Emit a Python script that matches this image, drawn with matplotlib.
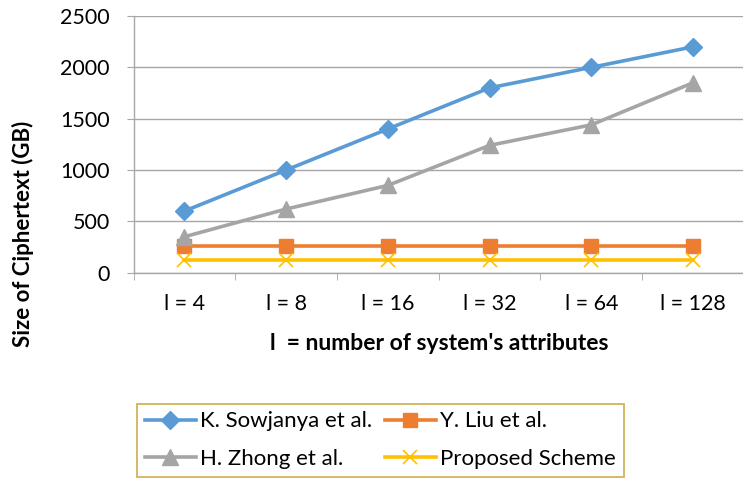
import numpy as np
import matplotlib
matplotlib.use("Agg")
import matplotlib.pyplot as plt

plt.rcParams['font.family'] = ['Lato', 'DejaVu Sans']

# ciphertext size per number of attributes
categories = ['l = 4', 'l = 8', 'l = 16', 'l = 32', 'l = 64', 'l = 128']
sowjanya = [600, 1000, 1400, 1800, 2000, 2200]
liu = [256, 256, 256, 256, 256, 256]
zhong = [350, 620, 850, 1240, 1440, 1850]
proposed = [128, 128, 128, 128, 128, 128]

series = [
    ('K. Sowjanya et al.', sowjanya, '#5B9BD5', 'D', 9.5),
    ('Y. Liu et al.', liu, '#ED7D31', 's', 10),
    ('H. Zhong et al.', zhong, '#A5A5A5', '^', 11),
    ('Proposed Scheme', proposed, '#FFC000', 'x', 10),
]

fig = plt.figure(figsize=(7.43, 4.78), dpi=100)
ax = fig.add_axes([0.1797, 0.4295, 0.8215, 0.537])

x = np.arange(len(categories))
lines = []
for name, vals, col, mk, ms in series:
    kw = dict(markeredgecolor=col, markerfacecolor=col)
    if mk == 'x':
        kw = dict(markeredgecolor=col, markeredgewidth=1.2)
    ln, = ax.plot(x, vals, color=col, linewidth=2.6, marker=mk, markersize=ms,
                  label=name, **kw)
    lines.append(ln)

ax.set_xlim(-0.5, len(categories) - 0.5)
ax.set_ylim(0, 2500)
ax.set_yticks(np.arange(0, 2501, 500))
ax.set_xticks(x)
ax.set_xticklabels(categories)
ax.set_xticks(np.arange(-0.5, len(categories), 1), minor=True)

ax.grid(axis='y', color='#A6A6A6', linewidth=1)
ax.set_axisbelow(True)
for s in ['top', 'right']:
    ax.spines[s].set_visible(False)
for s in ['left', 'bottom']:
    ax.spines[s].set_color('#A6A6A6')
    ax.spines[s].set_linewidth(1)

ax.tick_params(axis='x', which='major', length=0, pad=15, labelsize=15.5)
ax.tick_params(axis='x', which='minor', length=5, color='#A6A6A6')
ax.tick_params(axis='y', length=5, color='#A6A6A6', labelsize=15.5, pad=12)

# axis titles placed in figure coordinates
fig.text(23 / 743, 1 - 234 / 478, 'Size of Ciphertext (GB)', rotation=90,
         ha='center', va='center', fontsize=16, fontweight='bold')
fig.text(439 / 743, 1 - 343 / 478, "l  = number of system's attributes",
         ha='center', va='center', fontsize=16.5, fontweight='bold')

# two rows: Sowjanya / Liu, then Zhong / Proposed
order = [0, 2, 1, 3]
leg = fig.legend([lines[i] for i in order], [series[i][0] for i in order],
                 loc='lower left', bbox_to_anchor=(137 / 743, 1 / 478), ncol=2,
                 fontsize=16, frameon=True, fancybox=False, handlelength=2.3,
                 handletextpad=0.2, columnspacing=0.55, borderpad=0.35,
                 labelspacing=0.8, borderaxespad=0)
leg.get_frame().set_edgecolor('#C9A030')
leg.get_frame().set_linewidth(1.3)

fig.savefig('out.png', dpi=100)
